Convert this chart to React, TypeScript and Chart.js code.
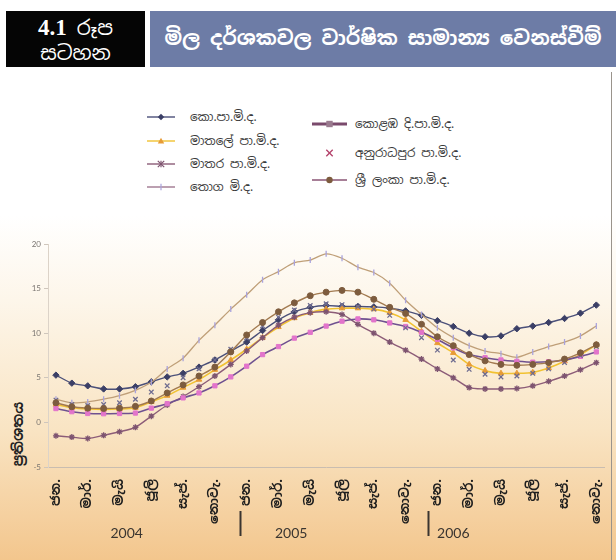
import React, { useEffect, useRef } from 'react';
import { Chart, registerables } from 'chart.js';

Chart.register(...registerables);

// ---------- data ----------
const MONTH_TICKS = ['ජන.', 'මාර්.', 'මැයි', 'ජූලි', 'සැප්.', 'නොවැ.'];
const YEARS = ['2004', '2005', '2006'];
const Y_MIN = -5;
const Y_MAX = 20;
const Y_STEP = 5;

// Jan 2004 .. Nov 2006 (35 months)
const CCPI = [5.3, 4.4, 4.1, 3.75, 3.75, 4.0, 4.55, 5.1, 5.5, 6.2, 7.0, 8.0, 9.0, 10.3, 11.5, 12.4, 12.9, 13.1, 13.0, 13.0, 12.95, 12.8, 12.5, 12.0, 11.4, 10.75, 10.0, 9.6, 9.7, 10.5, 10.8, 11.2, 11.65, 12.25, 13.15];
const MATALE = [2.0, 1.65, 1.5, 1.45, 1.5, 1.65, 2.3, 3.0, 3.9, 4.8, 5.9, 7.0, 8.2, 9.5, 10.7, 11.7, 12.3, 12.7, 12.8, 12.8, 12.7, 12.3, 11.5, 10.2, 8.9, 7.8, 6.5, 5.8, 5.5, 5.5, 5.6, 6.1, 6.85, 7.6, 8.7];
const MATARA = [-1.5, -1.65, -1.8, -1.45, -1.05, -0.55, 0.7, 1.95, 2.9, 4.0, 5.2, 6.5, 8.0, 9.5, 10.9, 11.8, 12.3, 12.4, 12.1, 11.0, 10.0, 9.0, 8.1, 7.1, 6.0, 5.0, 3.9, 3.75, 3.75, 3.8, 4.1, 4.6, 5.2, 5.9, 6.7];
const WPI = [2.6, 2.2, 2.3, 2.6, 3.0, 3.6, 4.5, 6.0, 7.2, 9.2, 10.9, 12.7, 14.3, 16.0, 16.9, 17.9, 18.2, 18.9, 18.4, 17.4, 16.8, 15.6, 13.7, 12.1, 10.6, 9.5, 8.6, 8.0, 7.7, 7.3, 7.9, 8.5, 9.0, 9.7, 10.8];
const CDCPI = [1.55, 1.2, 1.0, 0.97, 1.0, 1.05, 1.6, 2.1, 2.75, 3.3, 4.1, 5.1, 6.3, 7.6, 8.5, 9.45, 10.1, 10.8, 11.35, 11.6, 11.5, 11.15, 10.75, 10.1, 9.3, 8.35, 7.6, 7.25, 7.0, 6.85, 6.75, 6.8, 7.0, 7.4, 7.9];
const ANURADHAPURA = [2.5, 2.0, 1.9, 2.0, 2.2, 2.6, 3.4, 4.1, 5.0, 6.0, 7.0, 8.2, 9.5, 10.8, 11.8, 12.6, 13.1, 13.3, 13.2, 13.0, 12.7, 12.0, 10.6, 9.5, 8.1, 7.0, 5.95, 5.4, 5.1, 5.2, 5.5, 6.0, 6.7, 7.5, 8.5];
const SLCPI = [2.2, 1.75, 1.6, 1.55, 1.6, 1.8, 2.4, 3.3, 4.2, 5.2, 6.2, 7.9, 9.8, 11.2, 12.4, 13.4, 14.2, 14.6, 14.8, 14.6, 13.8, 12.9, 12.2, 11.0, 9.6, 8.6, 7.6, 6.9, 6.5, 6.4, 6.5, 6.7, 7.1, 7.8, 8.7];

const SERIES_NAMES = [
  'කො.පා.මි.ද.',
  'මාතලේ පා.මි.ද.',
  'මාතර පා.මි.ද.',
  'තොග මි.ද.',
  'කොළඹ දි.පා.මි.ද.',
  'අනුරාධපුර පා.මි.ද.',
  'ශ්‍රී ලංකා පා.මි.ද.',
];

const TITLE_NUM = '4.1';
const TITLE_NUM_WORD = 'රූප';
const TITLE_WORD = 'සටහන';
const TITLE = 'මිල දර්ශකවල වාර්ෂික සාමාන්‍ය වෙනස්වීම්';
const Y_TITLE = 'ප්‍රතිශතය';

// ---------- styles ----------
const SIN = '"Noto Sans Sinhala", "Iskoola Pota", "Noto Sans", "DejaVu Sans", sans-serif';

type Style = {
  line: string;
  point: string;
  shape: string;
  width: number;
  showLine: boolean;
  radius: number;
  rot?: number;
};

const STYLES: Style[] = [
  { line: '#4b5079', point: '#3b3f66', shape: 'rectRot', width: 1.4, showLine: true, radius: 3.2 },
  { line: '#f1c232', point: '#e79b36', shape: 'triangle', width: 1.6, showLine: true, radius: 3.2 },
  { line: '#8c5c78', point: '#7e5470', shape: 'star', width: 1.4, showLine: true, radius: 3.0 },
  { line: '#bf9f78', point: '#a9a3dc', shape: 'line', width: 1.3, showLine: true, radius: 3.0, rot: 90 },
  { line: '#6f5190', point: '#e274cb', shape: 'rect', width: 1.6, showLine: true, radius: 3.0 },
  { line: '#6e6c90', point: '#6e6c90', shape: 'crossRot', width: 1.3, showLine: false, radius: 3.2 },
  { line: '#a27a50', point: '#7d5c3e', shape: 'circle', width: 1.4, showLine: true, radius: 3.0 },
];

const DATA = [CCPI, MATALE, MATARA, WPI, CDCPI, ANURADHAPURA, SLCPI];

// legend layout (column/row placement)
const LEGEND_POS = [
  { x: 147, y: 117, w: 28, tx: 190 },
  { x: 147, y: 141, w: 28, tx: 190 },
  { x: 147, y: 164, w: 28, tx: 190 },
  { x: 147, y: 187, w: 28, tx: 190 },
  { x: 312, y: 124, w: 35, tx: 355 },
  { x: 312, y: 153, w: 35, tx: 355 },
  { x: 312, y: 180, w: 35, tx: 355 },
];

function markerSvg(s: Style, cx: number, cy: number) {
  const r = 3.2;
  switch (s.shape) {
    case 'rectRot':
      return <polygon points={`${cx},${cy - r} ${cx + r},${cy} ${cx},${cy + r} ${cx - r},${cy}`} fill={s.point} />;
    case 'triangle':
      return <polygon points={`${cx},${cy - r} ${cx + r},${cy + r * 0.8} ${cx - r},${cy + r * 0.8}`} fill={s.point} />;
    case 'star':
      return (
        <g stroke={s.point} strokeWidth={1.2}>
          <line x1={cx - r} y1={cy - r} x2={cx + r} y2={cy + r} />
          <line x1={cx - r} y1={cy + r} x2={cx + r} y2={cy - r} />
          <line x1={cx} y1={cy - r} x2={cx} y2={cy + r} />
        </g>
      );
    case 'line':
      return <line x1={cx} y1={cy - r} x2={cx} y2={cy + r} stroke={s.point} strokeWidth={1.2} />;
    case 'rect':
      return <rect x={cx - r} y={cy - r} width={2 * r} height={2 * r} fill="#9a7b8f" />;
    case 'crossRot':
      return (
        <g stroke="#b3406a" strokeWidth={1.3}>
          <line x1={cx - r} y1={cy - r} x2={cx + r} y2={cy + r} />
          <line x1={cx - r} y1={cy + r} x2={cx + r} y2={cy - r} />
        </g>
      );
    default:
      return <circle cx={cx} cy={cy} r={r} fill={s.point} />;
  }
}

function Legend() {
  return (
    <>
      {SERIES_NAMES.map((name, i) => {
        const p = LEGEND_POS[i];
        const s = STYLES[i];
        const h = 12;
        return (
          <React.Fragment key={name}>
            <svg width={p.w} height={h} style={{ position: 'absolute', left: p.x, top: p.y - h / 2 }}>
              {s.showLine && (
                <line
                  x1={0}
                  y1={h / 2}
                  x2={p.w}
                  y2={h / 2}
                  stroke={i === 4 ? '#7a4a6c' : i === 6 ? '#8a5474' : i === 3 ? '#a07890' : s.line}
                  strokeWidth={i === 4 ? 3.2 : 1.4}
                />
              )}
              {markerSvg(s, p.w / 2, h / 2)}
            </svg>
            <div
              style={{
                position: 'absolute',
                left: p.tx,
                top: p.y - 9,
                height: 18,
                lineHeight: '18px',
                fontFamily: SIN,
                fontSize: 12,
                color: '#3a3a3a',
                whiteSpace: 'nowrap',
              }}
            >
              {name}
            </div>
          </React.Fragment>
        );
      })}
    </>
  );
}

const YEAR_ANCHORS = [4.45, 14.8, 25.0];
const SEPARATORS = [11.55, 23.4];
const CANVAS_TOP = 230;

export default function App() {
  const canvasRef = useRef<HTMLCanvasElement>(null);

  useEffect(() => {
    document.body.style.margin = '0';
    const canvas = canvasRef.current;
    if (!canvas) return;

    const labels = CCPI.map((_, i) => (i % 2 === 0 ? MONTH_TICKS[(i / 2) % MONTH_TICKS.length] : ''));

    const yearPlugin = {
      id: 'yearLabels',
      afterDraw(chart: any) {
        const xs = chart.scales.x;
        const ctx = chart.ctx as CanvasRenderingContext2D;
        ctx.save();
        ctx.font = '14px Lato, "Open Sans", sans-serif';
        ctx.fillStyle = '#3a3530';
        ctx.textAlign = 'center';
        ctx.textBaseline = 'middle';
        YEARS.forEach((y, k) => {
          ctx.fillText(y, xs.getPixelForValue(YEAR_ANCHORS[k]), 533 - CANVAS_TOP);
        });
        ctx.strokeStyle = '#3a3530';
        ctx.lineWidth = 2;
        SEPARATORS.forEach((s) => {
          const px = Math.round(xs.getPixelForValue(s)) + 0.5;
          ctx.beginPath();
          ctx.moveTo(px, 511 - CANVAS_TOP);
          ctx.lineTo(px, 536 - CANVAS_TOP);
          ctx.stroke();
        });
        ctx.restore();
      },
    };

    const chart = new Chart(canvas, {
      type: 'line',
      data: {
        labels,
        datasets: DATA.map((d, i) => {
          const s = STYLES[i];
          return {
            label: SERIES_NAMES[i],
            data: d,
            borderColor: s.line,
            backgroundColor: s.point,
            borderWidth: s.width,
            showLine: s.showLine,
            tension: 0.25,
            pointStyle: s.shape as any,
            pointRadius: s.radius,
            pointRotation: s.rot ?? 0,
            pointBackgroundColor: s.point,
            pointBorderColor: s.point,
            pointBorderWidth: s.shape === 'crossRot' || s.shape === 'star' || s.shape === 'line' ? 1.3 : 1,
            order: 7 - i,
          };
        }),
      },
      options: {
        responsive: false,
        animation: false,
        layout: { padding: { top: 14, right: 2, left: 0, bottom: 0 } },
        plugins: {
          legend: { display: false },
          tooltip: { enabled: false },
        },
        scales: {
          x: {
            type: 'category',
            offset: true,
            grid: { display: false },
            border: { display: true, color: '#c9bdb0', width: 1 },
            ticks: {
              autoSkip: false,
              minRotation: 90,
              maxRotation: 90,
              padding: 4,
              color: '#1e1e1e',
              font: { family: SIN, size: 13, weight: 'bold' },
            },
            afterFit(scale: any) {
              scale.height = 560 - 467;
            },
          },
          y: {
            min: Y_MIN,
            max: Y_MAX,
            ticks: { stepSize: Y_STEP, color: '#7a7570', padding: 3, font: { size: 8, family: 'Lato, sans-serif' } },
            grid: { display: true, drawOnChartArea: false, tickLength: 4, color: '#cfc6bc' },
            border: { display: true, color: '#dcd3c8' },
            afterFit(scale: any) {
              scale.width = 48;
            },
          },
        },
      },
      plugins: [yearPlugin],
    });

    return () => chart.destroy();
  }, []);

  return (
    <div
      style={{
        position: 'relative',
        width: 616,
        height: 560,
        overflow: 'hidden',
        background: 'linear-gradient(to bottom, #ffffff 0px, #ffffff 215px, #fdf6ea 300px, #f9e4c3 430px, #f3c68d 560px)',
      }}
    >
      {/* header */}
      <div
        style={{
          position: 'absolute',
          left: 6,
          top: 11,
          width: 139,
          height: 56,
          background: '#050505',
          color: '#fff',
          textAlign: 'center',
          fontFamily: SIN,
        }}
      >
        <div style={{ fontSize: 20, lineHeight: '26px', marginTop: 4 }}>
          <span style={{ fontFamily: '"Liberation Serif", "DejaVu Serif", serif', fontSize: 23, fontWeight: 'bold' }}>
            {TITLE_NUM}
          </span>{' '}
          {TITLE_NUM_WORD}
        </div>
        <div style={{ fontSize: 20, lineHeight: '24px' }}>{TITLE_WORD}</div>
      </div>
      <div
        style={{
          position: 'absolute',
          left: 150,
          top: 11,
          width: 466,
          height: 56,
          background: '#6d7ca6',
          color: '#fff',
          textAlign: 'center',
          fontFamily: SIN,
          fontWeight: 'bold',
          fontSize: 20,
          lineHeight: '54px',
          whiteSpace: 'nowrap',
        }}
      >
        {TITLE}
      </div>

      <Legend />

      {/* y axis title */}
      <div
        style={{
          position: 'absolute',
          left: 18 - 40,
          top: 434 - 10,
          width: 80,
          height: 20,
          lineHeight: '20px',
          textAlign: 'center',
          transform: 'rotate(-90deg)',
          fontFamily: SIN,
          fontWeight: 'bold',
          fontSize: 14,
          color: '#222',
          whiteSpace: 'nowrap',
        }}
      >
        {Y_TITLE}
      </div>

      <canvas
        ref={canvasRef}
        width={616}
        height={330}
        style={{ position: 'absolute', left: 0, top: CANVAS_TOP, width: 616, height: 330 }}
      />

      {/* right page edge */}
      <div style={{ position: 'absolute', left: 611, top: 72, width: 1, height: 488, background: '#9a948c' }} />
    </div>
  );
}
